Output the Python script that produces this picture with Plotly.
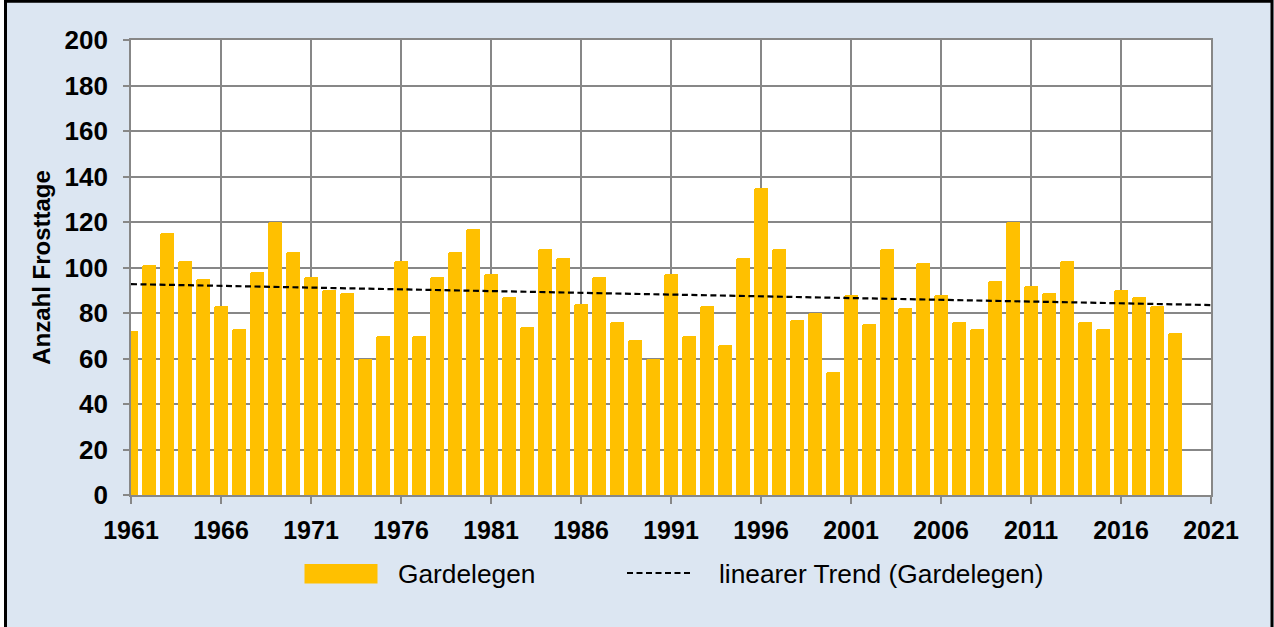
import plotly.graph_objects as go

years = list(range(1961, 2020))
frosttage = [72, 101, 115, 103, 95, 83, 73, 98, 120, 107,
             96, 90, 89, 60, 70, 103, 70, 96, 107, 117,
             97, 87, 74, 108, 104, 84, 96, 76, 68, 60,
             97, 70, 83, 66, 104, 135, 108, 77, 80, 54,
             88, 75, 108, 82, 102, 88, 76, 73, 94, 120,
             92, 89, 103, 76, 73, 90, 87, 83, 71]
trend_years = [1961, 2021]
trend_values = [92.7, 83.5]
x_ticks = list(range(1961, 2022, 5))
y_ticks = list(range(0, 201, 20))

W, H = 1274, 627
ML, MR, MT, MB = 131, 63, 40, 132
PW, PH = W - ML - MR, H - MT - MB

def px(x):
    return (x - ML) / PW

def py(y):
    return (H - MB - y) / PH

BAR = "#FFC000"
BG = "#DCE6F2"
GRID = "#878787"
FONT = "Liberation Sans, Arial, sans-serif"
DASH = "6px,3.5px"

fig = go.Figure()
fig.add_trace(go.Bar(x=years, y=frosttage, width=0.74, marker=dict(color=BAR, line=dict(width=0), cornerradius=2),
                     name="Gardelegen", showlegend=False))
fig.add_trace(go.Scatter(x=trend_years, y=trend_values, mode="lines",
                         line=dict(color="black", width=2.2, dash=DASH),
                         name="linearer Trend (Gardelegen)", showlegend=False))

fig.update_xaxes(range=[1961, 2021], tickmode="array", tickvals=x_ticks, ticktext=[str(t) for t in x_ticks],
                 showgrid=True, gridcolor=GRID, gridwidth=1.6, showline=True, linecolor=GRID, linewidth=1.6,
                 mirror=True, ticks="outside", ticklen=7, tickcolor=GRID, tickwidth=1.6,
                 ticklabelstandoff=5,
                 tickfont=dict(family=FONT, size=25, color="black", weight="bold"), zeroline=False)
fig.update_yaxes(range=[0, 200], tickmode="array", tickvals=y_ticks,
                 showgrid=True, gridcolor=GRID, gridwidth=1.6, showline=True, linecolor=GRID, linewidth=1.6,
                 mirror=True, ticks="outside", ticklen=6, tickcolor=GRID, tickwidth=1.6,
                 ticklabelstandoff=10,
                 tickfont=dict(family=FONT, size=26, color="black", weight="bold"), zeroline=False,
                 title=dict(text="Anzahl Frosttage", font=dict(family=FONT, size=24, color="black", weight="bold"),
                            standoff=7))

shapes = [
    # legend bar symbol
    dict(type="rect", xref="paper", yref="paper", x0=px(304.5), x1=px(377.5), y0=py(564), y1=py(583.5),
         fillcolor=BAR, line=dict(width=0), layer="above"),
    # legend trend symbol
    dict(type="line", xref="paper", yref="paper", x0=px(627), x1=px(693), y0=py(573), y1=py(573),
         line=dict(color="black", width=2.2, dash=DASH)),
    # white strip at the far left
    dict(type="rect", xref="paper", yref="paper", x0=px(-1), x1=px(4), y0=py(-1), y1=py(660),
         fillcolor="white", line=dict(width=0)),
    # outer frame
    dict(type="rect", xref="paper", yref="paper", x0=px(5.5), x1=px(1272), y0=py(1.3), y1=py(660),
         line=dict(color="black", width=3), fillcolor="rgba(0,0,0,0)"),
]
annotations = [
    dict(text="Gardelegen", xref="paper", yref="paper", x=px(396), y=py(574), xanchor="left", yanchor="middle",
         showarrow=False, font=dict(family=FONT, size=26.3, color="black")),
    dict(text="linearer Trend (Gardelegen)", xref="paper", yref="paper", x=px(716.5), y=py(574),
         xanchor="left", yanchor="middle", showarrow=False, font=dict(family=FONT, size=26.3, color="black")),
]

fig.update_layout(width=W, height=H, margin=dict(l=ML, r=MR, t=MT, b=MB, autoexpand=False),
                  paper_bgcolor=BG, plot_bgcolor="white", bargap=0, shapes=shapes, annotations=annotations,
                  showlegend=False, font=dict(family=FONT))

fig.write_html("out.html", config={"displayModeBar": False},
               post_script="document.body.style.margin='0px';document.body.style.padding='0px';"
                           "document.body.style.overflow='hidden';")
